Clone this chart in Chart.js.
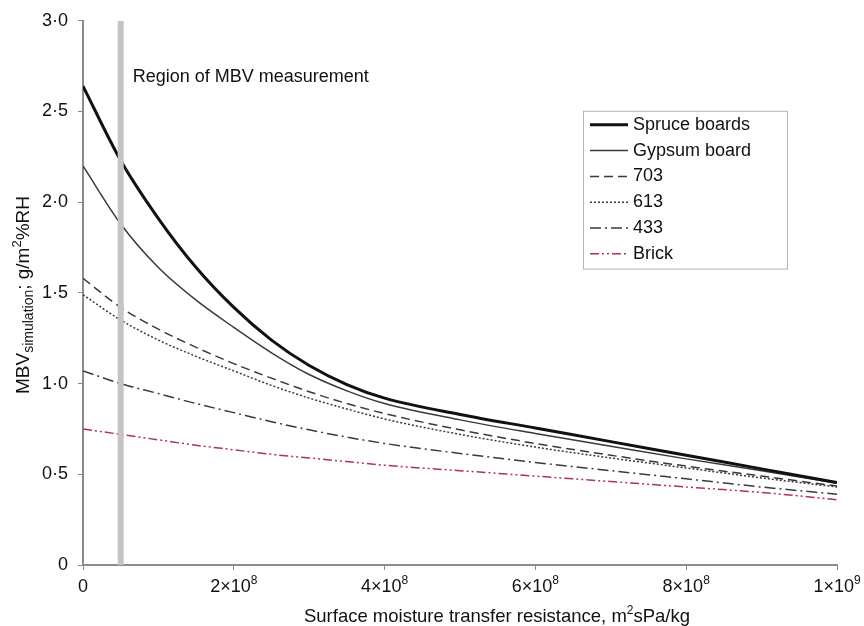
<!DOCTYPE html>
<html>
<head>
<meta charset="utf-8">
<title>MBV simulation</title>
<script src="https://cdn.jsdelivr.net/npm/chart.js@4/dist/chart.umd.min.js"></script>
<style>
  body { margin: 0; background: #fff; }
  #box { width: 864px; height: 626px; }
</style>
</head>
<body>
<div id="box"><canvas id="myChart" width="864" height="626"></canvas></div>
<script>
'use strict';

// x positions of the read points (surface resistance, m2sPa/kg)
const xValues = [0, 0.5e8, 1e8, 1.5e8, 2e8, 2.5e8, 3e8, 3.5e8, 4e8, 5e8, 6e8, 7e8, 8e8, 9e8, 1e9];

// MBV values for every material
const spruceValues = [2.64, 2.23, 1.91, 1.64, 1.42, 1.24, 1.10, 0.995, 0.92, 0.83, 0.755, 0.68, 0.605, 0.53, 0.455];
const gypsumValues = [2.20, 1.88, 1.64, 1.46, 1.31, 1.17, 1.05, 0.96, 0.89, 0.80, 0.725, 0.655, 0.585, 0.52, 0.45];
const m703Values = [1.58, 1.42, 1.30, 1.20, 1.11, 1.03, 0.955, 0.89, 0.835, 0.745, 0.67, 0.605, 0.545, 0.49, 0.435];
const m613Values = [1.49, 1.35, 1.24, 1.15, 1.07, 0.99, 0.92, 0.86, 0.805, 0.72, 0.65, 0.59, 0.535, 0.48, 0.43];
const m433Values = [1.07, 1.00, 0.945, 0.89, 0.84, 0.79, 0.745, 0.705, 0.67, 0.615, 0.565, 0.52, 0.475, 0.43, 0.39];
const brickValues = [0.75, 0.72, 0.69, 0.66, 0.635, 0.61, 0.59, 0.57, 0.55, 0.52, 0.49, 0.46, 0.43, 0.40, 0.36];

const seriesNames = ['Spruce boards', 'Gypsum board', '703', '613', '433', 'Brick'];

// tick labels (x labels have a base and a superscript power)
const xTickBase = ['0', '2×10', '4×10', '6×10', '8×10', '1×10'];
const xTickPower = ['', '8', '8', '8', '8', '9'];
const yTickLabels = ['0', '0·5', '1·0', '1·5', '2·0', '2·5', '3·0'];

// region of MBV measurement (vertical band)
const bandX = 0.5e8;
const bandNote = 'Region of MBV measurement';

const fontFamily = '"Liberation Sans", Arial, Helvetica, sans-serif';

// turning a list of values into {x,y} points
function toPoints(values){
  return xValues.map(function(x, i){ return {x: x, y: values[i]}; });
}

// one curve
function curve(label, values, color, width, dash){
  return {
    label: label,
    data: toPoints(values),
    borderColor: color,
    backgroundColor: color,
    borderWidth: width,
    borderDash: dash,
    pointRadius: 0,
    fill: false,
    cubicInterpolationMode: 'monotone',
    order: 1
  };
}

const datasets = [
  curve(seriesNames[0], spruceValues, '#111111', 3, []),
  curve(seriesNames[1], gypsumValues, '#3a3a3a', 1.5, []),
  curve(seriesNames[2], m703Values, '#3a3a3a', 1.5, [9, 5]),
  curve(seriesNames[3], m613Values, '#3a3a3a', 1.5, [2, 2]),
  curve(seriesNames[4], m433Values, '#3a3a3a', 1.5, [11, 4, 2, 4]),
  curve(seriesNames[5], brickValues, '#a8384a', 1.5, [9, 3, 2, 3, 2, 3]),
  {
    label: 'band',
    data: [{x: bandX, y: 0}, {x: bandX, y: 3}],
    borderColor: '#c4c4c4',
    borderWidth: 6,
    pointRadius: 0,
    fill: false,
    order: 0
  }
];

// writes pieces of text with different sizes / offsets one after another, centred on 0
function drawPieces(ctx, parts){
  let total = 0;
  parts.forEach(function(p){
    ctx.font = p.size + 'px ' + fontFamily;
    p.w = ctx.measureText(p.t).width;
    total += p.w;
  });
  let pos = -total / 2;
  parts.forEach(function(p){
    ctx.font = p.size + 'px ' + fontFamily;
    ctx.fillText(p.t, pos, p.dy);
    pos += p.w;
  });
}

// plugin drawing the axis texts (with sub/superscripts), the note and the boxed legend
const extras = {
  id: 'extras',
  afterDatasetsDraw: function(chart){
    const ctx = chart.ctx;
    const area = chart.chartArea;
    const xs = chart.scales.x;

    // note next to the band
    ctx.save();
    ctx.fillStyle = '#111';
    ctx.font = '18px ' + fontFamily;
    ctx.textBaseline = 'middle';
    ctx.textAlign = 'left';
    ctx.fillText(bandNote, xs.getPixelForValue(bandX) + 12, area.top + 56);
    ctx.restore();

    // legend
    ctx.save();
    const boxLeft = area.right - 254;
    const boxTop = area.top + 90;
    const rowH = 25.8;
    const items = chart.data.datasets.filter(function(d){ return d.label !== 'band'; });
    ctx.fillStyle = '#fff';
    ctx.fillRect(boxLeft, boxTop, 204, rowH * items.length + 3);
    ctx.strokeStyle = '#b5b5b5';
    ctx.lineWidth = 1;
    ctx.strokeRect(boxLeft + 0.5, boxTop + 0.5, 204, rowH * items.length + 3);
    ctx.font = '18px ' + fontFamily;
    ctx.textBaseline = 'middle';
    for(let i = 0; i < items.length; i++){
      const y = boxTop + 14 + i * rowH;
      ctx.strokeStyle = items[i].borderColor;
      ctx.lineWidth = items[i].borderWidth;
      ctx.setLineDash(items[i].borderDash);
      ctx.beginPath();
      ctx.moveTo(boxLeft + 7, y);
      ctx.lineTo(boxLeft + 45, y);
      ctx.stroke();
      ctx.setLineDash([]);
      ctx.fillStyle = '#111';
      ctx.fillText(items[i].label, boxLeft + 50, y);
    }
    ctx.restore();

    // x tick labels with superscript powers
    ctx.save();
    ctx.fillStyle = '#111';
    ctx.textBaseline = 'middle';
    xs.ticks.forEach(function(tick, i){
      ctx.save();
      ctx.translate(xs.getPixelForValue(tick.value), area.bottom + 22);
      drawPieces(ctx, [
        {t: xTickBase[i], size: 18, dy: 0},
        {t: xTickPower[i], size: 12, dy: -6}
      ]);
      ctx.restore();
    });
    ctx.restore();

    // x axis title
    ctx.save();
    ctx.fillStyle = '#111';
    ctx.textBaseline = 'middle';
    ctx.translate(497, area.bottom + 52);
    drawPieces(ctx, [
      {t: 'Surface moisture transfer resistance, m', size: 18.5, dy: 0},
      {t: '2', size: 12, dy: -6},
      {t: 'sPa/kg', size: 18.5, dy: 0}
    ]);
    ctx.restore();

    // y axis title
    ctx.save();
    ctx.fillStyle = '#111';
    ctx.textBaseline = 'middle';
    ctx.translate(24, 295);
    ctx.rotate(-Math.PI / 2);
    drawPieces(ctx, [
      {t: 'MBV', size: 19, dy: 0},
      {t: 'simulation', size: 14, dy: 5},
      {t: '; ', size: 19, dy: 0},
      {t: 'g/m', size: 19, dy: 0},
      {t: '2', size: 13, dy: -7},
      {t: '%RH', size: 19, dy: 0}
    ]);
    ctx.restore();
  }
};

const ctx = document.getElementById('myChart').getContext('2d');
const chart = new Chart(ctx, {
  type: 'line',
  data: { datasets: datasets },
  options: {
    responsive: false,
    animation: false,
    devicePixelRatio: 1,
    layout: { padding: { left: 0, right: 27, top: 17, bottom: 0 } },
    plugins: {
      legend: { display: false },
      tooltip: { enabled: false }
    },
    scales: {
      x: {
        type: 'linear',
        min: 0,
        max: 1e9,
        afterFit: function(scale){ scale.height = 61; },
        ticks: {
          stepSize: 2e8,
          maxRotation: 0,
          font: { family: fontFamily, size: 18 },
          callback: function(){ return ''; }
        },
        grid: { display: true, drawOnChartArea: false, tickLength: 5, color: '#8c8c8c' },
        border: { display: true, color: '#8c8c8c', width: 2 }
      },
      y: {
        type: 'linear',
        min: 0,
        max: 3,
        afterFit: function(scale){ scale.width = 83; },
        ticks: {
          stepSize: 0.5,
          padding: 10,
          color: '#111',
          font: { family: fontFamily, size: 18 },
          callback: function(value, index){ return yTickLabels[index]; }
        },
        grid: { display: true, drawOnChartArea: false, tickLength: 5, color: '#8c8c8c' },
        border: { display: true, color: '#8c8c8c', width: 2 }
      }
    }
  },
  plugins: [extras]
});
</script>
</body>
</html>
